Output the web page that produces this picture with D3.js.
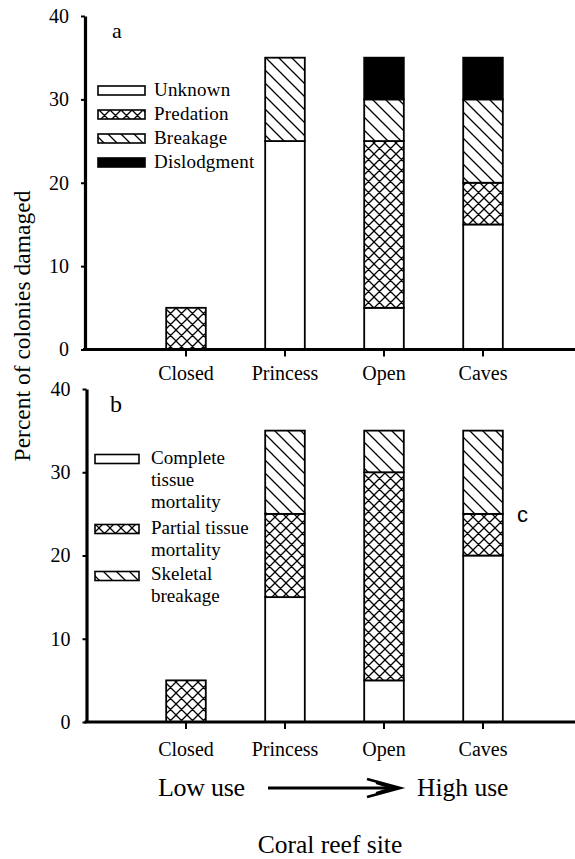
<!DOCTYPE html>
<html>
<head>
<meta charset="utf-8">
<script src="https://cdn.jsdelivr.net/npm/d3@7/dist/d3.min.js"></script>
<style>
  html, body { margin: 0; padding: 0; background: #fff; overflow: hidden; }
  svg { display: block; }
</style>
</head>
<body>
<svg id="chart" width="575" height="859"></svg>
<script>
// ---------------- DATA ----------------
const categories = ["Closed", "Princess", "Open", "Caves"];
const yTicks = [0, 10, 20, 30, 40];

// Panel a: causes of damage
const seriesA = ["Unknown", "Predation", "Breakage", "Dislodgment"];
const unknown     = [0, 25, 5, 15];
const predation   = [5, 0, 20, 5];
const breakage    = [0, 10, 5, 10];
const dislodgment = [0, 0, 5, 5];

// Panel b: type of damage
const seriesB = ["Complete", "Partial", "Skeletal"];
const seriesBLabels = [["Complete", "tissue", "mortality"], ["Partial tissue", "mortality"], ["Skeletal", "breakage"]];
const completeMort = [0, 15, 5, 20];
const partialMort  = [5, 10, 25, 5];
const skeletal     = [0, 10, 5, 10];

// ---------------- SETUP ----------------
const svg = d3.select("#chart");
const SERIF = "'Liberation Serif', 'Times New Roman', serif";
const SANS = "'Liberation Sans', Arial, sans-serif";

const defs = svg.append("defs");
// crosshatch
(function () {
  const s = 11;
  const p = defs.append("pattern").attr("id", "cross").attr("patternUnits", "userSpaceOnUse")
    .attr("width", s).attr("height", s);
  p.append("rect").attr("width", s).attr("height", s).attr("fill", "#fff");
  p.append("path")
    .attr("d", `M0,0L${s},${s}M-1,${s - 1}L1,${s + 1}M${s - 1},-1L${s + 1},1` +
               `M0,${s}L${s},0M-1,1L1,-1M${s - 1},${s + 1}L${s + 1},${s - 1}`)
    .attr("stroke", "#000").attr("stroke-width", 1.3).attr("fill", "none");
})();
// diagonal "\" hatch
(function () {
  const s = 13;
  const p = defs.append("pattern").attr("id", "diag").attr("patternUnits", "userSpaceOnUse")
    .attr("width", s).attr("height", s);
  p.append("rect").attr("width", s).attr("height", s).attr("fill", "#fff");
  p.append("path")
    .attr("d", `M0,0L${s},${s}M-1,${s - 1}L1,${s + 1}M${s - 1},-1L${s + 1},1`)
    .attr("stroke", "#000").attr("stroke-width", 1.3).attr("fill", "none");
})();

const fillsA = { Unknown: "#fff", Predation: "url(#cross)", Breakage: "url(#diag)", Dislodgment: "#000" };
const fillsB = { Complete: "#fff", Partial: "url(#cross)", Skeletal: "url(#diag)" };

const x = d3.scaleBand().domain(categories).range([84, 585]).paddingInner(0.6).paddingOuter(0.83);

function drawPanel(cfg) {
  const y = d3.scaleLinear().domain([0, 40]).range([cfg.y0, cfg.y40]);
  const g = svg.append("g");

  const rows = categories.map((c, i) => {
    const o = { cat: c };
    cfg.keys.forEach((k, j) => o[k] = cfg.values[j][i]);
    return o;
  });
  const stacked = d3.stack().keys(cfg.keys)(rows);

  stacked.forEach(layer => {
    g.append("g").selectAll("rect")
      .data(layer.filter(d => d[1] - d[0] > 0))
      .join("rect")
      .attr("x", d => x(d.data.cat))
      .attr("width", x.bandwidth())
      .attr("y", d => y(d[1]))
      .attr("height", d => y(d[0]) - y(d[1]))
      .attr("fill", cfg.fills[layer.key])
      .attr("stroke", "#000")
      .attr("stroke-width", 1.8);
  });

  // x axis
  const xa = g.append("g").attr("transform", `translate(0,${cfg.y0})`)
    .call(d3.axisBottom(x).tickSize(7).tickSizeOuter(0).tickPadding(cfg.xPad));
  xa.select(".domain").remove();
  xa.selectAll(".tick line").attr("stroke-width", 2).attr("y1", 1);
  xa.selectAll("text").attr("font-family", SERIF).attr("font-size", 20).attr("fill", "#000");
  g.append("line").attr("x1", cfg.axisX - 2).attr("x2", 575).attr("y1", cfg.y0).attr("y2", cfg.y0)
    .attr("stroke", "#000").attr("stroke-width", 3.2);

  // y axis
  const ya = g.append("g").attr("transform", `translate(${cfg.axisX},0)`)
    .call(d3.axisLeft(y).tickValues(yTicks).tickSize(4).tickSizeOuter(0).tickPadding(12));
  ya.select(".domain").attr("stroke-width", 3.2);
  ya.selectAll(".tick line").attr("stroke-width", 2);
  ya.selectAll("text").attr("font-family", SERIF).attr("font-size", 20).attr("fill", "#000");

  // panel letter
  g.append("text").attr("x", cfg.letterX).attr("y", cfg.letterY)
    .attr("font-family", SERIF).attr("font-size", cfg.letterSize).text(cfg.letter);
  return y;
}

drawPanel({
  keys: seriesA, values: [unknown, predation, breakage, dislodgment], fills: fillsA,
  y0: 349.5, y40: 16, axisX: 85, xPad: 9,
  letter: "a", letterX: 112, letterY: 38, letterSize: 22
});
drawPanel({
  keys: seriesB, values: [completeMort, partialMort, skeletal], fills: fillsB,
  y0: 722, y40: 389, axisX: 86.5, xPad: 13,
  letter: "b", letterX: 110, letterY: 412, letterSize: 24
});

// ---------------- LEGENDS ----------------
const legA = svg.append("g");
const legAY = [86, 110, 134, 158];
seriesA.forEach((k, i) => {
  legA.append("rect").attr("x", 98).attr("y", legAY[i]).attr("width", 47).attr("height", 9)
    .attr("fill", fillsA[k]).attr("stroke", "#000").attr("stroke-width", 1.6);
  legA.append("text").attr("x", 154).attr("y", legAY[i] + 9.5)
    .attr("font-family", SERIF).attr("font-size", 19).attr("letter-spacing", 0.2).text(k);
});

const legB = svg.append("g");
const legBY = [454.5, 524.5, 571.5];
const legBText = [464, 534, 580];
seriesB.forEach((k, i) => {
  legB.append("rect").attr("x", 95).attr("y", legBY[i]).attr("width", 44).attr("height", 9)
    .attr("fill", fillsB[k]).attr("stroke", "#000").attr("stroke-width", 1.6);
  seriesBLabels[i].forEach((line, j) => {
    legB.append("text").attr("x", 151).attr("y", legBText[i] + j * 22)
      .attr("font-family", SERIF).attr("font-size", 19).text(line);
  });
});

// "c" label
svg.append("text").attr("x", 517).attr("y", 522)
  .attr("font-family", SANS).attr("font-size", 22).text("c");

// ---------------- AXIS TITLES & ARROW ----------------
svg.append("text").attr("transform", "translate(30,326) rotate(-90)")
  .attr("text-anchor", "middle").attr("font-family", SERIF).attr("font-size", 23.5)
  .text("Percent of colonies damaged");

svg.append("text").attr("x", 158).attr("y", 796)
  .attr("font-family", SERIF).attr("font-size", 26).attr("letter-spacing", -0.3).text("Low use");
svg.append("text").attr("x", 417).attr("y", 796)
  .attr("font-family", SERIF).attr("font-size", 25.5).text("High use");

svg.append("line").attr("x1", 268).attr("x2", 396).attr("y1", 788).attr("y2", 788)
  .attr("stroke", "#000").attr("stroke-width", 3);
svg.append("path").attr("d", "M367,779L400,788L367,797")
  .attr("fill", "none").attr("stroke", "#000").attr("stroke-width", 2.8).attr("stroke-linejoin", "miter");
svg.append("path").attr("d", "M376,783L392,788L376,793")
  .attr("fill", "none").attr("stroke", "#000").attr("stroke-width", 2.2);

svg.append("text").attr("x", 330).attr("y", 853).attr("text-anchor", "middle")
  .attr("font-family", SERIF).attr("font-size", 25.5).text("Coral reef site");
</script>
</body>
</html>
